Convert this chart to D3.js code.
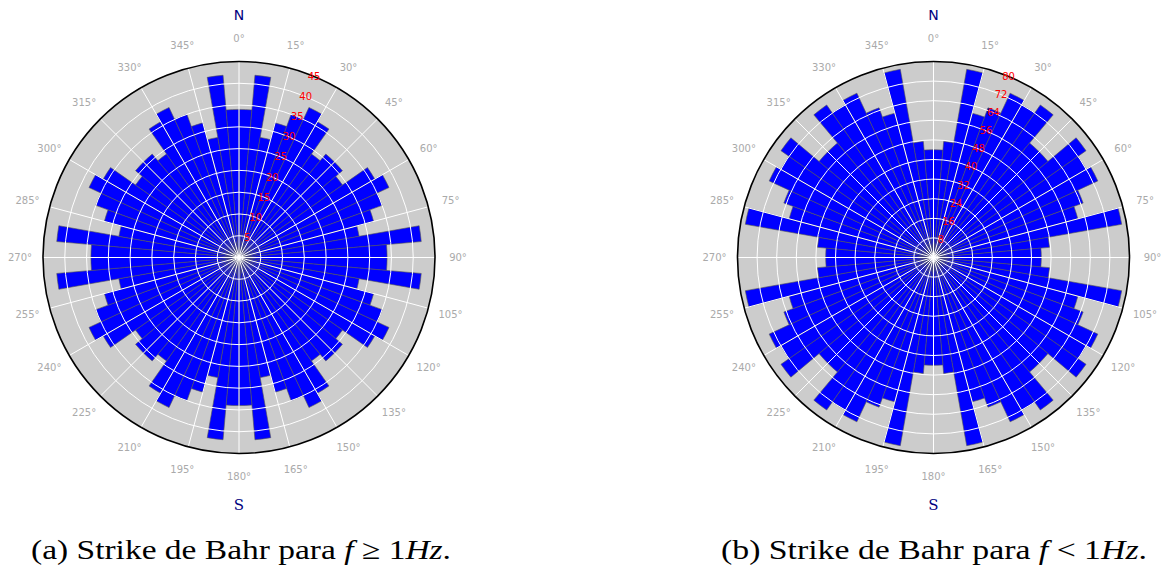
<!DOCTYPE html>
<html>
<head>
<meta charset="utf-8">
<script src="https://cdn.jsdelivr.net/npm/d3@7/dist/d3.min.js"></script>
<style>
  html, body { margin: 0; padding: 0; background: #ffffff; }
  svg { display: block; }
</style>
</head>
<body>
<svg id="chart" width="1168" height="574"></svg>
<script>
// ---- Data ----
const binStartDeg = [0,5,10,15,20,25,30,35,40,45,50,55,60,65,70,75,80,85,
  90,95,100,105,110,115,120,125,130,135,140,145,150,155,160,165,170,175,
  180,185,190,195,200,205,210,215,220,225,230,235,240,245,250,255,260,265,
  270,275,280,285,290,295,300,305,310,315,320,325,330,335,340,345,350,355];
const binWidthDeg = 5;

// (a) f >= 1 Hz
const countsA = [34,42,28,32,35,38,36,29,31,31,29,36,38,35,32,28,42,34,
  34,42,28,32,35,38,36,29,31,31,29,36,38,35,32,28,42,34,
  34,42,28,32,35,38,36,29,31,31,29,36,38,35,32,28,42,34,
  34,42,28,32,35,38,36,29,31,31,29,36,38,35,32,28,42,34];
// (b) f < 1 Hz
const countsB = [44,47.5,78,61,65,74,72,76,61,61,76,72,74,65,61,78,47.5,44,
  44,47.5,78,61,65,74,72,76,61,61,76,72,74,65,61,78,47.5,44,
  44,47.5,78,61,65,74,72,76,61,61,76,72,74,65,61,78,47.5,44,
  44,47.5,78,61,65,74,72,76,61,61,76,72,74,65,61,78,47.5,44];

const radialTicksA = [5,10,15,20,25,30,35,40,45];
const radialTicksB = [8,16,24,32,40,48,56,64,72,80];
const radialMaxA = 45;
const radialMaxB = 80;

const angleTicks = [0,15,30,45,60,75,90,105,120,135,150,165,180,195,210,225,240,255,270,285,300,315,330,345];
const angleTickLabels = ["0°","15°","30°","45°","60°","75°","90°","105°","120°","135°","150°","165°","180°","195°","210°","225°","240°","255°","270°","285°","300°","315°","330°","345°"];

const captionA = {pre: "(a) Strike de Bahr para ", f: "f", rel: " ≥ 1", hz: "Hz", post: "."};
const captionB = {pre: "(b) Strike de Bahr para ", f: "f", rel: " < 1", hz: "Hz", post: "."};

// ---- Drawing ----
const svg = d3.select("#chart");
const R = 196;

function rose(cx, cy, counts, rmax, rticks, caption, capX, capW) {
  const g = svg.append("g").attr("transform", `translate(${cx},${cy})`);
  const r = d3.scaleLinear().domain([0, rmax]).range([0, R]);
  const a = d3.scaleLinear().domain([0, 360]).range([0, 2 * Math.PI]);

  // background
  g.append("circle").attr("r", R).attr("fill", "#cccccc");

  // bars
  const arc = d3.arc();
  g.selectAll("path.bar").data(binStartDeg).join("path")
    .attr("class", "bar")
    .attr("d", (d, i) => arc({innerRadius: 0, outerRadius: r(counts[i]),
      startAngle: a(d), endAngle: a(d + binWidthDeg)}))
    .attr("fill", "#0000ff")
    .attr("stroke", "#555555")
    .attr("stroke-width", 0.6)
    .attr("stroke-linejoin", "miter");

  // grid circles
  g.selectAll("circle.grid").data(rticks.filter(t => t < rmax)).join("circle")
    .attr("class", "grid")
    .attr("r", d => r(d))
    .attr("fill", "none")
    .attr("stroke", "#ffffff")
    .attr("stroke-width", 1);

  // radial grid lines
  g.selectAll("line.spoke").data(angleTicks).join("line")
    .attr("class", "spoke")
    .attr("x1", 0).attr("y1", 0)
    .attr("x2", d => R * Math.sin(a(d)))
    .attr("y2", d => -R * Math.cos(a(d)))
    .attr("stroke", "#ffffff")
    .attr("stroke-width", 1);

  // outer spine
  g.append("circle").attr("r", R).attr("fill", "none")
    .attr("stroke", "#000000").attr("stroke-width", 1.6);

  // radial tick labels at 22.5°
  const la = a(22.5);
  g.selectAll("text.rlab").data(rticks).join("text")
    .attr("class", "rlab")
    .attr("x", d => r(d) * Math.sin(la))
    .attr("y", d => -r(d) * Math.cos(la))
    .attr("text-anchor", "middle")
    .attr("dominant-baseline", "central")
    .attr("font-family", "DejaVu Sans, sans-serif")
    .attr("font-size", 10)
    .attr("fill", "#ff0000")
    .text(d => d);

  // angle labels
  const LR = 219;
  g.selectAll("text.alab").data(angleTicks).join("text")
    .attr("class", "alab")
    .attr("x", d => LR * Math.sin(a(d)))
    .attr("y", d => -LR * Math.cos(a(d)))
    .attr("text-anchor", "middle")
    .attr("dominant-baseline", "central")
    .attr("font-family", "DejaVu Sans, sans-serif")
    .attr("font-size", 10)
    .attr("fill", "#aaaaaa")
    .text((d, i) => angleTickLabels[i]);

  // N / S
  g.append("text").attr("x", 0).attr("y", -243)
    .attr("text-anchor", "middle").attr("dominant-baseline", "central")
    .attr("font-family", "DejaVu Sans, sans-serif").attr("font-size", 14)
    .attr("fill", "#000080").text("N");
  g.append("text").attr("x", 0).attr("y", 247)
    .attr("text-anchor", "middle").attr("dominant-baseline", "central")
    .attr("font-family", "DejaVu Serif, serif").attr("font-size", 15)
    .attr("fill", "#000080").text("S");

  // caption
  const t = svg.append("text")
    .attr("x", capX).attr("y", 559)
    .attr("text-anchor", "start")
    .attr("font-family", "Liberation Serif, DejaVu Serif, serif")
    .attr("font-size", 28)
    .attr("textLength", capW)
    .attr("lengthAdjust", "spacingAndGlyphs")
    .attr("fill", "#000000");
  t.append("tspan").text(caption.pre);
  t.append("tspan").attr("font-style", "italic").text(caption.f);
  t.append("tspan").text(caption.rel);
  t.append("tspan").attr("font-style", "italic").text(caption.hz);
  t.append("tspan").text(caption.post);
}

rose(239, 257.5, countsA, radialMaxA, radialTicksA, captionA, 31, 420);
rose(933.5, 257.5, countsB, radialMaxB, radialTicksB, captionB, 721, 426);
</script>
</body>
</html>
